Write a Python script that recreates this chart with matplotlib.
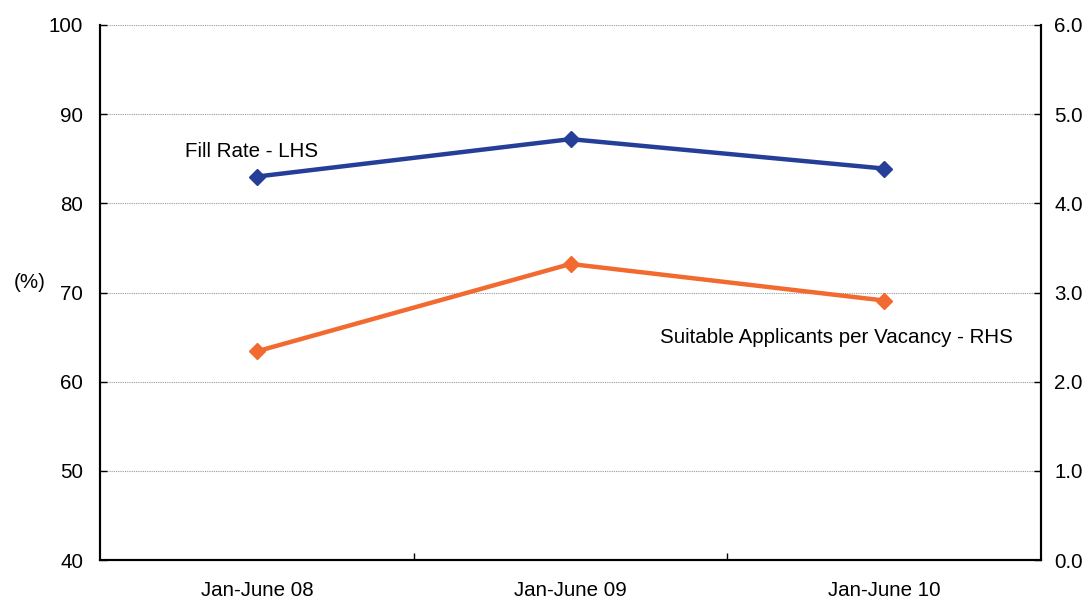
import matplotlib
matplotlib.use("Agg")
import matplotlib.pyplot as plt
from matplotlib.ticker import FixedLocator

plt.rcParams['font.family'] = ['Liberation Sans', 'DejaVu Sans']

categories = ["Jan-June 08", "Jan-June 09", "Jan-June 10"]
fill_rate = [83.0, 87.2, 83.9]
applicants = [2.34, 3.32, 2.91]

left_ticks = [40, 50, 60, 70, 80, 90, 100]
right_ticks = [0.0, 1.0, 2.0, 3.0, 4.0, 5.0, 6.0]

blue = "#253F98"
orange = "#F26A30"
fs = 14.8

fig = plt.figure(figsize=(10.87, 5.99), dpi=100)
ax = fig.add_axes([100/1087, 1-560/599, (1041-100)/1087, (560-25)/599])
ax2 = ax.twinx()

x = list(range(len(categories)))
ax.plot(x, fill_rate, color=blue, lw=3.2, marker='D', ms=8.5, zorder=5)
ax2.plot(x, applicants, color=orange, lw=3.2, marker='D', ms=8.5, zorder=5)

ax.set_xlim(-0.5, len(categories) - 0.5)
ax.set_ylim(40, 100)
ax2.set_ylim(0, 6)

ax.set_yticks(left_ticks)
ax.set_yticklabels([str(t) for t in left_ticks], fontsize=fs)
ax2.set_yticks(right_ticks)
ax2.set_yticklabels([f"{t:.1f}" for t in right_ticks], fontsize=fs)

ax.set_xticks(x)
ax.set_xticklabels(categories, fontsize=fs)
ax.tick_params(axis='x', which='major', length=0, pad=15)
ax.xaxis.set_minor_locator(FixedLocator([0.5, 1.5]))
ax.tick_params(axis='x', which='minor', direction='in', length=5, width=1, color='black')

ax.tick_params(axis='y', direction='in', length=5, width=1, pad=12)
ax2.tick_params(axis='y', direction='in', length=5, width=1, pad=9.5)

ax.grid(axis='y', color='#999999', linestyle=(0, (1, 1)), linewidth=0.8)
ax.set_axisbelow(True)

for a in (ax, ax2):
    a.spines['top'].set_visible(False)
    for s in ('left', 'right', 'bottom'):
        a.spines[s].set_linewidth(1.5)

ax.set_ylabel("(%)", rotation=0, fontsize=fs, labelpad=0)
ax.yaxis.set_label_coords(-0.075, 0.5)

ax.text(-0.23, 85.8, "Fill Rate - LHS", fontsize=fs, ha='left', va='center')
ax2.text(2.41, 2.49, "Suitable Applicants per Vacancy - RHS", fontsize=fs, ha='right', va='center')

fig.savefig("out.png", dpi=100)
